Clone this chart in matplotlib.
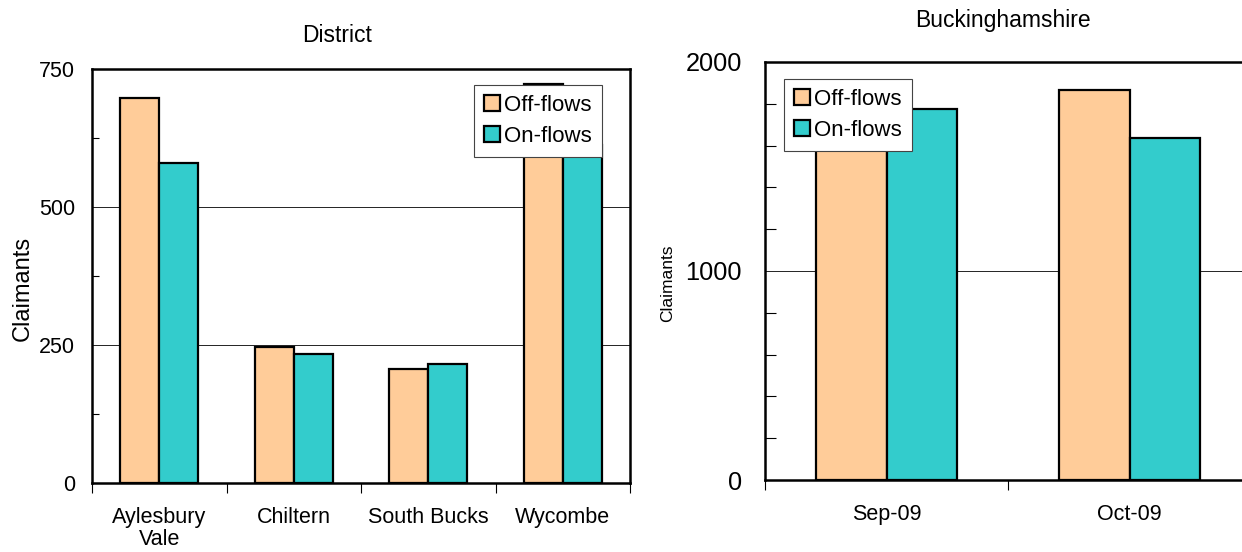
import numpy as np
import matplotlib
matplotlib.use("Agg")
import matplotlib.pyplot as plt
from matplotlib.ticker import MultipleLocator

plt.rcParams["font.family"] = ["Liberation Sans", "DejaVu Sans"]

# district chart data
districts = ["Aylesbury\nVale", "Chiltern", "South Bucks", "Wycombe"]
district_off = [697, 246, 207, 722]
district_on = [580, 234, 215, 612]

# county chart data
months = ["Sep-09", "Oct-09"]
county_off = [1700, 1866]
county_on = [1775, 1638]

series_names = ["Off-flows", "On-flows"]
off_color = "#FFCC99"
on_color = "#33CCCC"


def bar_panel(ax, cats, off, on, ymax, major, minor, tick_size, tick_pad, minor_len):
    x = np.arange(len(cats))
    w = 0.29
    ax.bar(x - w / 2, off, w, color=off_color, edgecolor="black", linewidth=1.6,
           label=series_names[0], zorder=3)
    ax.bar(x + w / 2, on, w, color=on_color, edgecolor="black", linewidth=1.6,
           label=series_names[1], zorder=3)
    ax.set_xlim(-0.5, len(cats) - 0.5)
    ax.set_ylim(0, ymax)
    #gridlines only on major values
    ax.yaxis.set_major_locator(MultipleLocator(major))
    ax.yaxis.set_minor_locator(MultipleLocator(minor))
    ax.grid(axis="y", which="major", color="black", linewidth=0.6, zorder=0)
    ax.tick_params(axis="y", which="major", length=0, pad=tick_pad, labelsize=tick_size)
    ax.tick_params(axis="y", which="minor", direction="in", length=minor_len, width=0.8)
    #category labels in the middle, ticks between categories
    ax.set_xticks(np.arange(len(cats) + 1) - 0.5)
    ax.set_xticklabels([])
    ax.set_xticks(x, minor=True)
    ax.set_xticklabels(cats, minor=True, fontsize=15.5, linespacing=1.1)
    ax.tick_params(axis="x", which="major", direction="out", length=7, width=0.8)
    ax.tick_params(axis="x", which="minor", length=0, pad=17)
    for s in ax.spines.values():
        s.set_linewidth(1.8)
    leg = ax.legend(handlelength=0.7, handleheight=0.7, handletextpad=0.2,
                    fontsize=16, fancybox=False, framealpha=1,
                    edgecolor="#444444", borderpad=0.45, labelspacing=0.45,
                    borderaxespad=0)
    leg.get_frame().set_linewidth(0.8)
    return leg


fig = plt.figure(figsize=(12.42, 5.52), dpi=100)

ax1 = fig.add_axes([92 / 1242, 1 - 483 / 552, 538 / 1242, 414 / 552])
leg1 = bar_panel(ax1, districts, district_off, district_on, 750, 250, 125, 15.5, 12, 5)
leg1.set_bbox_to_anchor((602 / 1242, 1 - 85 / 552), transform=fig.transFigure)
leg1._loc = 1
ax1.set_ylabel("Claimants", fontsize=17)
ax1.yaxis.set_label_coords(-58 / 538, 0.47)
fig.text(337 / 1242, 1 - 35 / 552, "District", fontsize=16.5, ha="center", va="center")

ax2 = fig.add_axes([765 / 1242, 1 - 480 / 552, 486 / 1242, 418 / 552])
leg2 = bar_panel(ax2, months, county_off, county_on, 2000, 1000, 200, 18.3, 16.5, 8)
leg2.set_bbox_to_anchor((784 / 1242, 1 - 79 / 552), transform=fig.transFigure)
leg2._loc = 2
ax2.set_ylabel("Claimants", fontsize=12.5)
ax2.yaxis.set_label_coords(-90 / 486, 0.47)
fig.text(1003 / 1242, 1 - 20 / 552, "Buckinghamshire", fontsize=16.5, ha="center", va="center")

fig.savefig("out.png", dpi=100)
